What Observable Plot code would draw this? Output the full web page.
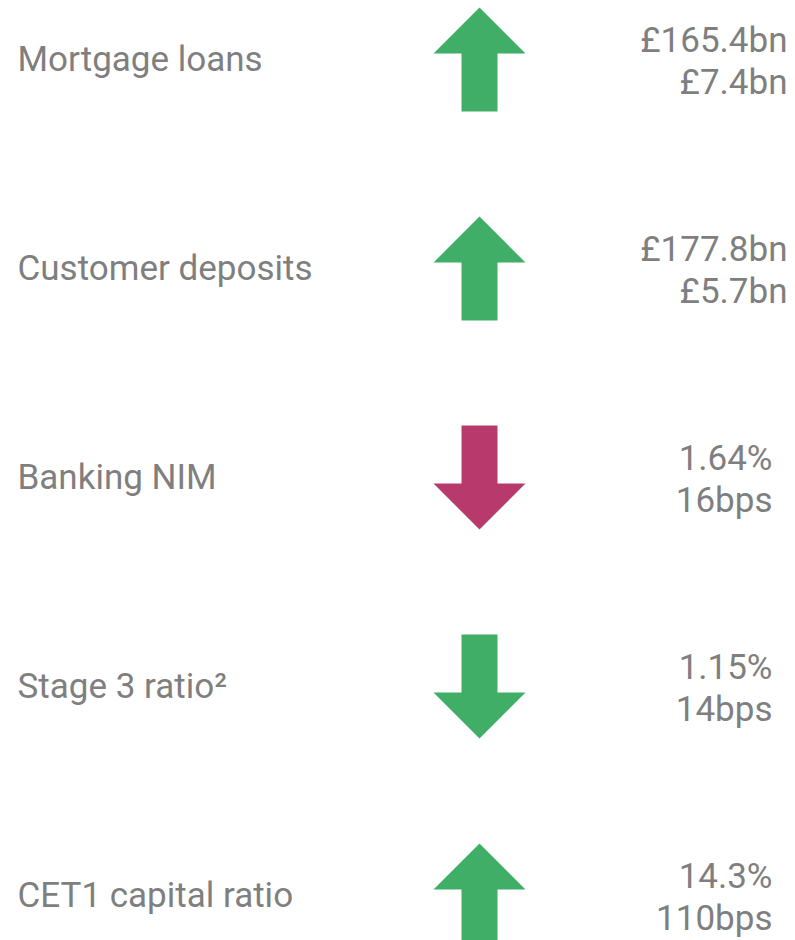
<!DOCTYPE html>
<html>
<head>
<meta charset="utf-8">
<script src="https://cdn.jsdelivr.net/npm/d3@7"></script>
<script src="https://cdn.jsdelivr.net/npm/@observablehq/plot@0.6"></script>
<style>
  html, body { margin: 0; padding: 0; background: #ffffff; }
</style>
</head>
<body>
<div id="chart"></div>
<script>
// Data
const metrics = ["Mortgage loans", "Customer deposits", "Banking NIM", "Stage 3 ratio²", "CET1 capital ratio"];
const values = ["£165.4bn", "£177.8bn", "1.64%", "1.15%", "14.3%"];
const changes = ["£7.4bn", "£5.7bn", "16bps", "14bps", "110bps"];
const directions = ["up", "up", "down", "down", "up"];
const outcomes = ["good", "good", "bad", "good", "good"];

const rows = metrics.map((m, i) => ({
  metric: m,
  value: values[i],
  change: changes[i],
  direction: directions[i],
  outcome: outcomes[i],
  idx: i
}));

// Styles
const grey = "#7f7f7f";
const colorFor = {good: "#40ae67", bad: "#b83a6c"};

// Block arrow shape for the vector mark (drawn pointing up, rotated for down)
const blockArrow = {
  draw(context, l) {
    const shaft = 18, head = 46, headLen = 46;
    context.moveTo(-shaft, 0);
    context.lineTo(-shaft, -l + headLen);
    context.lineTo(-head, -l + headLen);
    context.lineTo(0, -l);
    context.lineTo(head, -l + headLen);
    context.lineTo(shaft, -l + headLen);
    context.lineTo(shaft, 0);
    context.closePath();
  }
};

const chart = Plot.plot({
  width: 795,
  height: 940,
  margin: 0,
  style: {fontFamily: "Roboto, 'Noto Sans', sans-serif", background: "#ffffff"},
  x: {domain: [0, 795], range: [0, 795], axis: null},
  y: {type: "point", domain: metrics, range: [58, 895], padding: 0, axis: null},
  marks: [
    Plot.text(rows, {
      x: () => 17, y: "metric", text: "metric",
      textAnchor: "start", fontSize: 35, fill: grey
    }),
    Plot.vector(rows, {
      x: () => 479, y: "metric",
      length: 104,
      rotate: d => d.direction === "up" ? 0 : 180,
      anchor: "middle",
      shape: blockArrow,
      fill: d => colorFor[d.outcome],
      stroke: "none"
    }),
    Plot.text(rows, {
      x: d => d.idx < 2 ? 787 : 772, y: "metric",
      text: d => d.value + "\n" + d.change,
      textAnchor: "end", lineAnchor: "middle", lineHeight: 1.2,
      fontSize: 35, fill: grey
    })
  ]
});

document.getElementById("chart").appendChild(chart);
</script>
</body>
</html>
